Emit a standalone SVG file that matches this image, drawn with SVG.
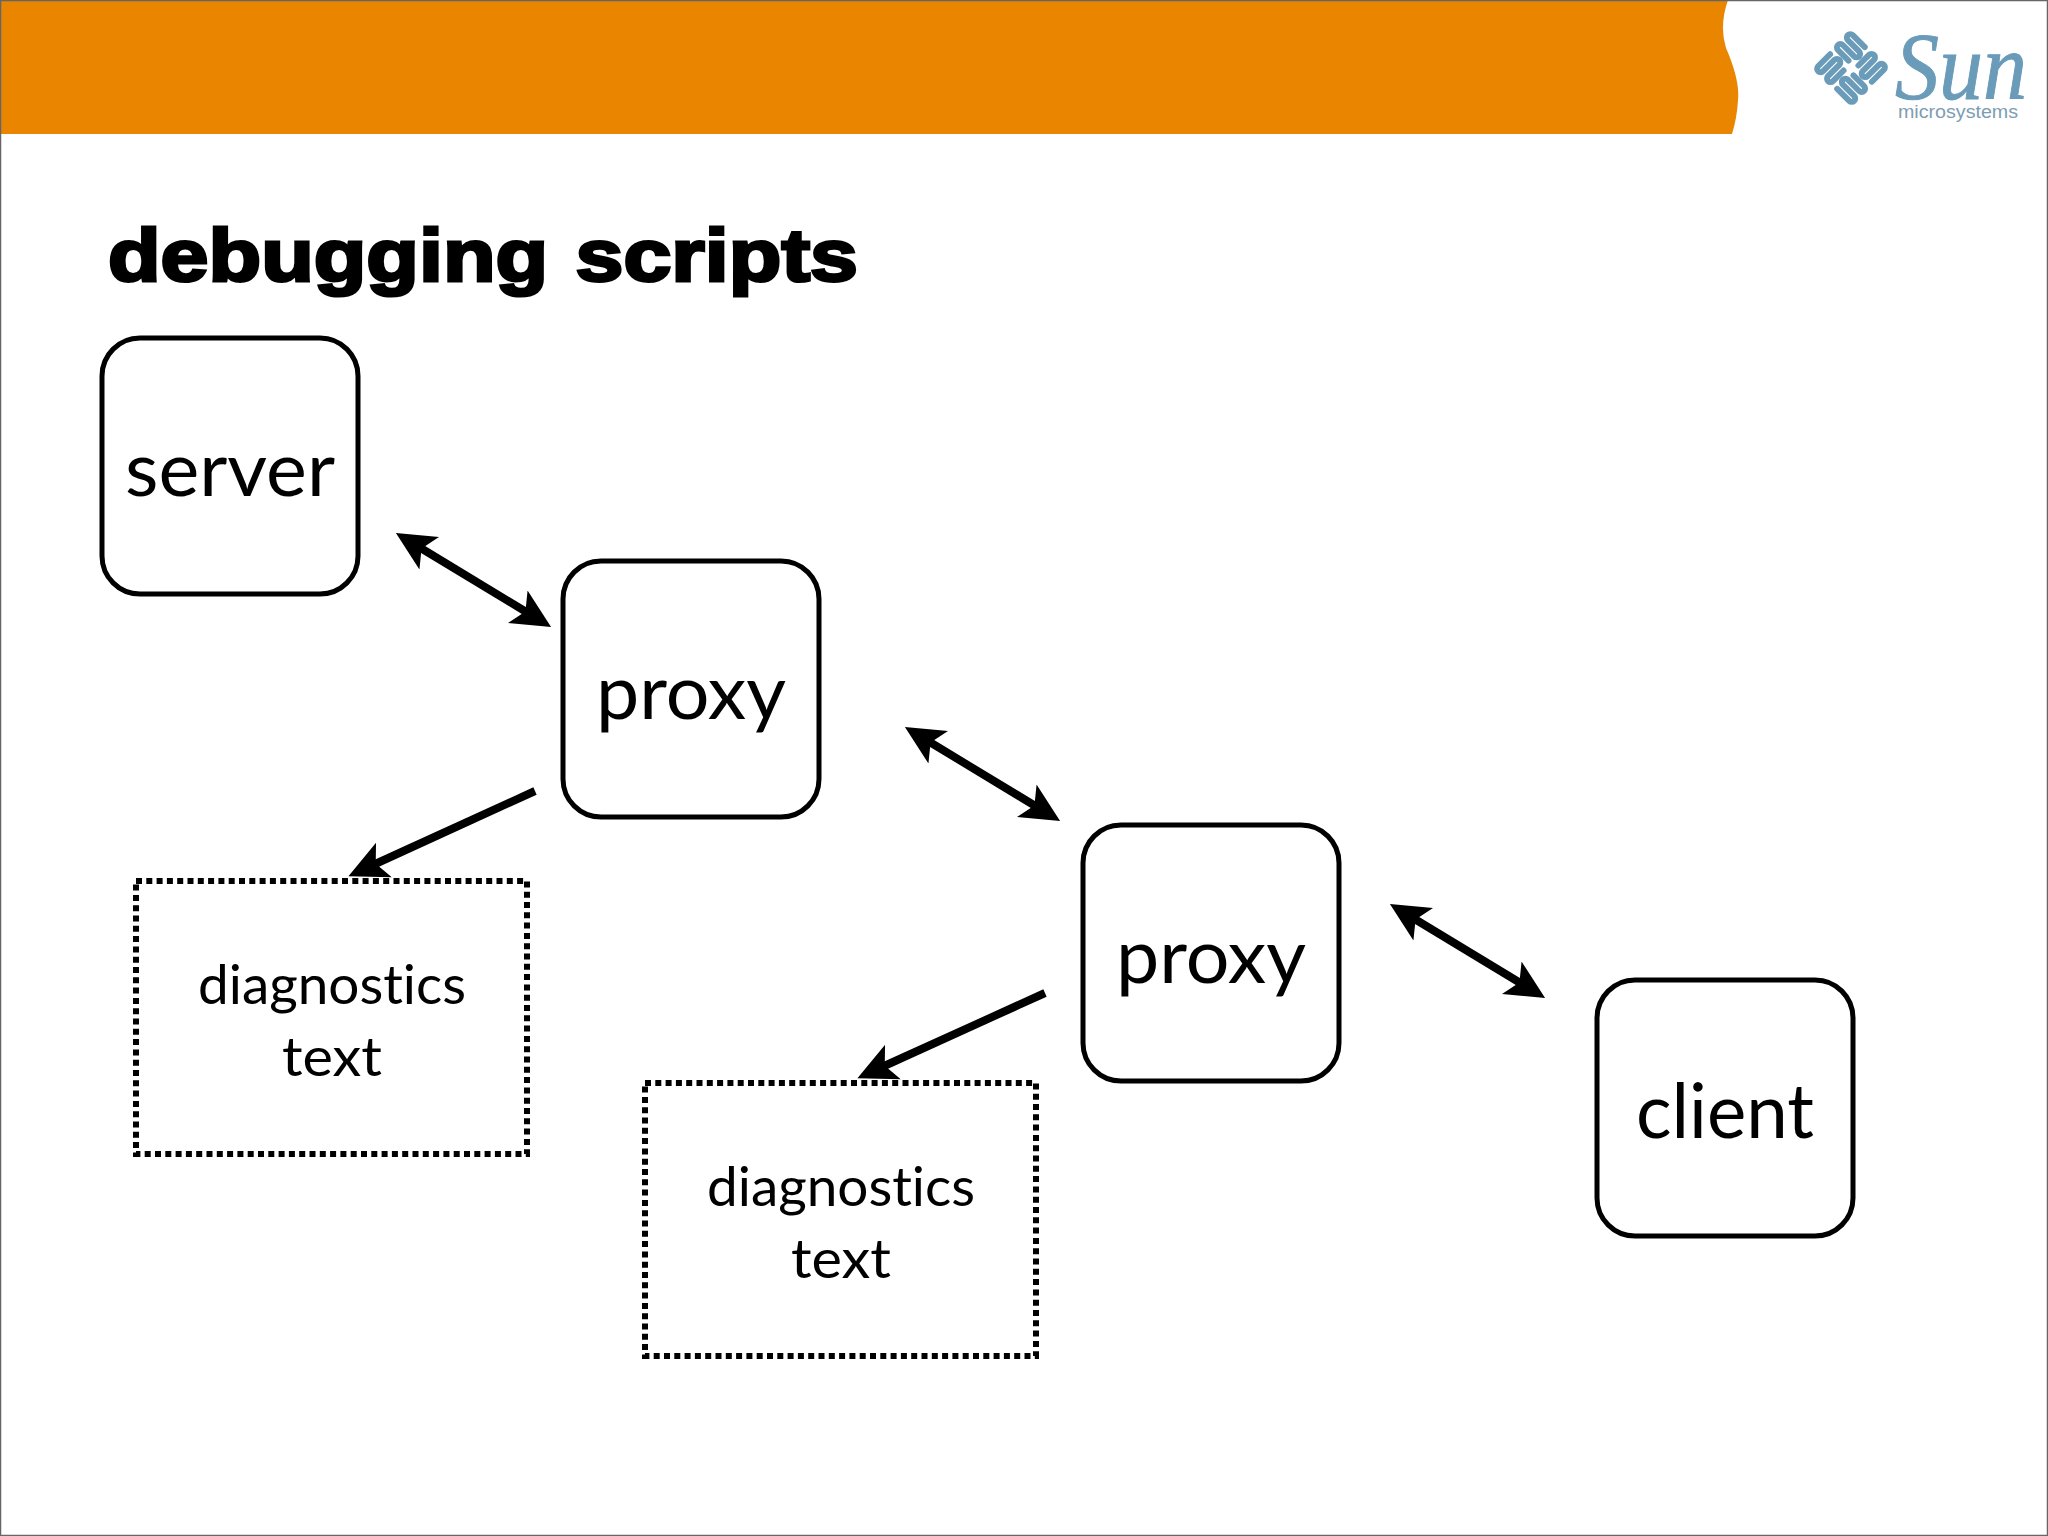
<svg xmlns="http://www.w3.org/2000/svg" width="2048" height="1536" viewBox="0 0 2048 1536">
<style>
.box{fill:#fff;stroke:#000;stroke-width:5}
.dot{fill:none;stroke:#000;stroke-width:6;stroke-dasharray:6 4.3}
.big{font-family:"Lato","Open Sans",sans-serif;font-size:76px;fill:#000;text-anchor:middle;font-variant-ligatures:none}
.small{font-family:"Lato","Open Sans",sans-serif;font-size:55px;fill:#000;text-anchor:middle;font-variant-ligatures:none}
.conn{stroke:#000;stroke-width:8;fill:none}
.lg{fill:none;stroke:#6a9bb9;stroke-width:5.9;stroke-linecap:round;stroke-linejoin:round}
</style>
<defs>
<marker id="ah" markerUnits="userSpaceOnUse" markerWidth="44" markerHeight="40" refX="12" refY="20" orient="auto-start-reverse">
<path d="M39 20L0 1L9 20L0 39Z" fill="#000"/>
</marker>
<path id="q" class="lg" d="M-5 -24.5H-22a3.5 3.5 0 0 0 0 7H-6a3.5 3.5 0 0 1 0 7H-22a3.5 3.5 0 0 0 0 7H-7"/>
</defs>
<rect width="2048" height="1536" fill="#fff"/>
<path d="M0 0H1728Q1719 26 1726 48Q1740 80 1738 100Q1737 118 1732 134H0Z" fill="#ea8500"/>
<rect x="0.5" y="0.5" width="2047" height="1535" fill="none" stroke="#666" stroke-width="1.5"/>
<g id="logo">
<g transform="translate(1851 68) rotate(45)">
<use href="#q"/><use href="#q" transform="rotate(90)"/><use href="#q" transform="rotate(180)"/><use href="#q" transform="rotate(270)"/>
</g>
<text x="1895" y="99" font-family="Liberation Serif,serif" font-style="italic" font-size="96" fill="#6a9bb9" stroke="#6a9bb9" stroke-width="1" textLength="132" lengthAdjust="spacingAndGlyphs">Sun</text>
<text x="1898" y="118" font-family="Liberation Sans,sans-serif" font-size="17.5" fill="#7d9db3" textLength="120" lengthAdjust="spacingAndGlyphs">microsystems</text>
</g>
<text id="title" x="108" y="281" font-family="Liberation Sans,Arial,sans-serif" font-weight="700" font-size="74" word-spacing="3" fill="#000" stroke="#000" stroke-width="3" textLength="750" lengthAdjust="spacingAndGlyphs">debugging scripts</text>
<g id="connectors">
<line class="conn" x1="419" y1="547" x2="528" y2="613" marker-start="url(#ah)" marker-end="url(#ah)"/>
<line class="conn" x1="928" y1="741" x2="1037" y2="807" marker-start="url(#ah)" marker-end="url(#ah)"/>
<line class="conn" x1="1413" y1="918" x2="1522" y2="984" marker-start="url(#ah)" marker-end="url(#ah)"/>
<line class="conn" x1="535" y1="791" x2="373" y2="865" marker-end="url(#ah)"/>
<line class="conn" x1="1045" y1="993" x2="882" y2="1067" marker-end="url(#ah)"/>
</g>
<g id="server"><rect class="box" x="102" y="338" width="256" height="256" rx="38"/><text class="big" x="230" y="496" textLength="210" lengthAdjust="spacingAndGlyphs">server</text></g>
<g id="proxy1"><rect class="box" x="563" y="561" width="256" height="256" rx="38"/><text class="big" x="691" y="719" textLength="190" lengthAdjust="spacingAndGlyphs">proxy</text></g>
<g id="proxy2"><rect class="box" x="1083" y="825" width="256" height="256" rx="38"/><text class="big" x="1211" y="983" textLength="190" lengthAdjust="spacingAndGlyphs">proxy</text></g>
<g id="client"><rect class="box" x="1597" y="980" width="256" height="256" rx="38"/><text class="big" x="1725" y="1138" textLength="178" lengthAdjust="spacingAndGlyphs">client</text></g>
<g id="diag1"><rect class="dot" x="136" y="881" width="391" height="273"/><text class="small" x="332" y="1004" textLength="268" lengthAdjust="spacingAndGlyphs">diagnostics</text><text class="small" x="332" y="1076" textLength="100" lengthAdjust="spacingAndGlyphs">text</text></g>
<g id="diag2"><rect class="dot" x="645" y="1083" width="391" height="273"/><text class="small" x="841" y="1206" textLength="268" lengthAdjust="spacingAndGlyphs">diagnostics</text><text class="small" x="841" y="1278" textLength="100" lengthAdjust="spacingAndGlyphs">text</text></g>
</svg>
